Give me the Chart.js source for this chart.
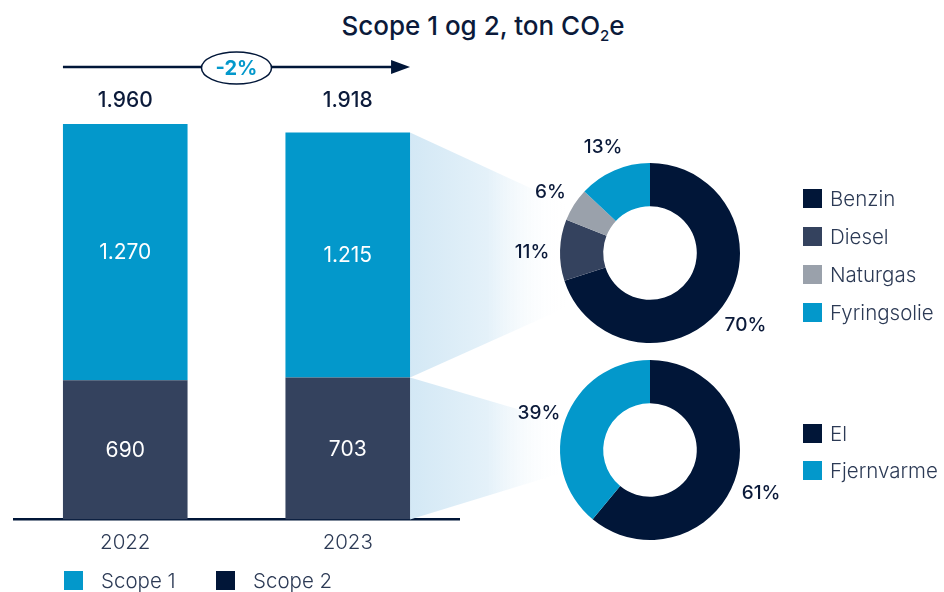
<!DOCTYPE html>
<html>
<head>
<meta charset="utf-8">
<script src="https://cdn.jsdelivr.net/npm/chart.js@4/dist/chart.umd.min.js"></script>
<style>
  body { margin: 0; background: #fff; font-family: Inter, sans-serif; }
  #wrap { position: relative; width: 944px; height: 592px; overflow: hidden; }
  canvas { position: absolute; }
  .title { position: absolute; left: 0; width: 966px; top: 10px; text-align: center;
           font-size: 26px; font-weight: 500; color: #0b1a3a; }
  .title sub { font-size: 15px; vertical-align: -6px; line-height: 0; }
  .leg { position: absolute; display: flex; align-items: center; height: 20px;
         font-size: 20.5px; font-weight: 300; color: #2c3a55; white-space: nowrap; }
  .leg i { display: inline-block; width: 19px; height: 19px; margin-right: 8px; }
  .leg.wide i { margin-right: 18px; }
</style>
</head>
<body>
<div id="wrap">
  <div class="title">Scope 1 og 2, ton CO<sub>2</sub>e</div>
  <canvas id="bars" width="944" height="592" style="left:0;top:0"></canvas>
  <canvas id="fuel" width="300" height="240" style="left:500px;top:133px"></canvas>
  <canvas id="energy" width="300" height="240" style="left:500px;top:330px"></canvas>
</div>
<script>
// data
const years = ['2022', '2023'];
const scope1 = [1270, 1215];
const scope2 = [690, 703];
const fuelLabels = ['Benzin', 'Diesel', 'Naturgas', 'Fyringsolie'];
const fuelShares = [70, 11, 6, 13];
const energyLabels = ['El', 'Fjernvarme'];
const energyShares = [61, 39];

const BLUE = '#0398cb';
const NAVY = '#011638';
const SLATE = '#34425e';
const GREY = '#9aa1ab';
const TEXT = '#0b1a3a';

const totals = years.map((y, i) => scope1[i] + scope2[i]);

function fmt(n) {
  return String(n).replace(/\B(?=(\d{3})+(?!\d))/g, '.');
}

Chart.defaults.font.family = 'Inter, sans-serif';
Chart.defaults.devicePixelRatio = 1;

function drawFan(ctx, x0, yTop, yBot, x1, y1Top, y1Bot) {
  let grad = ctx.createLinearGradient(x0, 0, x1, 0);
  grad.addColorStop(0, '#d3e8f5');
  grad.addColorStop(0.5, '#e4f1f9');
  grad.addColorStop(1, 'rgba(255,255,255,0)');
  ctx.save();
  ctx.fillStyle = grad;
  ctx.beginPath();
  ctx.moveTo(x0, yTop);
  ctx.lineTo(x1, y1Top);
  ctx.lineTo(x1, y1Bot);
  ctx.lineTo(x0, yBot);
  ctx.closePath();
  ctx.fill();
  ctx.restore();
}

const barDecor = {
  id: 'barDecor',
  beforeDatasetsDraw(chart) {
    const ctx = chart.ctx;
    const top = chart.getDatasetMeta(1).data[1];
    const bot = chart.getDatasetMeta(0).data[1];
    const x0 = top.x + top.width / 2;
    drawFan(ctx, x0, top.y, top.base, 565, 204, 308);
    drawFan(ctx, x0, bot.y, bot.base, 565, 423, 472);
  },
  afterDatasetsDraw(chart) {
    const ctx = chart.ctx;
    ctx.save();
    ctx.textAlign = 'center';
    ctx.textBaseline = 'middle';
    // values inside the segments
    ctx.fillStyle = '#fff';
    ctx.font = '21px Inter';
    chart.data.datasets.forEach((ds, di) => {
      chart.getDatasetMeta(di).data.forEach((bar, i) => {
        ctx.fillText(fmt(ds.data[i]), bar.x, (bar.y + bar.base) / 2 + 1);
      });
    });
    // totals above
    const bars = chart.getDatasetMeta(1).data;
    ctx.fillStyle = TEXT;
    ctx.font = '500 21px Inter';
    bars.forEach((bar, i) => {
      ctx.fillText(fmt(totals[i]), bar.x, chart.chartArea.top - 23);
    });
    // arrow with change
    const xa = bars[0].x - bars[0].width / 2;
    const xb = bars[1].x + bars[1].width / 2;
    const ya = 67;
    ctx.strokeStyle = NAVY;
    ctx.lineWidth = 2.5;
    ctx.beginPath();
    ctx.moveTo(xa, ya);
    ctx.lineTo(xb - 10, ya);
    ctx.stroke();
    ctx.fillStyle = NAVY;
    ctx.beginPath();
    ctx.moveTo(xb, ya);
    ctx.lineTo(xb - 19, ya - 7);
    ctx.lineTo(xb - 19, ya + 7);
    ctx.closePath();
    ctx.fill();
    const xm = (xa + xb) / 2;
    ctx.fillStyle = '#fff';
    ctx.lineWidth = 1.5;
    ctx.beginPath();
    ctx.ellipse(xm, ya + 1, 35, 16, 0, 0, Math.PI * 2);
    ctx.fill();
    ctx.stroke();
    const change = Math.round((totals[1] - totals[0]) / totals[0] * 100);
    ctx.fillStyle = BLUE;
    ctx.font = 'bold 20px Inter';
    ctx.fillText(change + '%', xm, ya + 2);
    ctx.restore();
  }
};

new Chart(document.getElementById('bars'), {
  type: 'bar',
  data: {
    labels: years,
    datasets: [
      { label: 'Scope 2', data: scope2, backgroundColor: SLATE },
      { label: 'Scope 1', data: scope1, backgroundColor: BLUE }
    ]
  },
  options: {
    responsive: false,
    animation: false,
    layout: { padding: { top: 124, left: 14, right: 485, bottom: 26 } },
    datasets: { bar: { barPercentage: 0.56, categoryPercentage: 1 } },
    plugins: { legend: { display: false }, tooltip: { enabled: false } },
    scales: {
      x: {
        stacked: true,
        grid: { display: false, drawTicks: false },
        border: { display: true, color: NAVY, width: 2.5 },
        ticks: { color: '#2c3a55', font: { size: 20.5, weight: 300 }, padding: 11 }
      },
      y: { stacked: true, display: false, min: 0, max: Math.max(...totals) }
    }
  },
  plugins: [barDecor]
});

const pctLabels = {
  id: 'pctLabels',
  afterDatasetsDraw(chart) {
    const ctx = chart.ctx;
    const data = chart.data.datasets[0].data;
    ctx.save();
    ctx.fillStyle = TEXT;
    ctx.font = '500 19px Inter';
    ctx.textAlign = 'center';
    ctx.textBaseline = 'middle';
    chart.getDatasetMeta(0).data.forEach((arc, i) => {
      const mid = (arc.startAngle + arc.endAngle) / 2;
      const r = arc.outerRadius + 28;
      ctx.fillText(data[i] + '%', arc.x + Math.cos(mid) * r, arc.y + Math.sin(mid) * r + 3);
    });
    ctx.restore();
  }
};

function donut(id, labels, values, colors) {
  return new Chart(document.getElementById(id), {
    type: 'doughnut',
    data: { labels: labels, datasets: [{ data: values, backgroundColor: colors, borderWidth: 0 }] },
    options: {
      responsive: false,
      animation: false,
      cutout: '52%',
      layout: { padding: { top: 30, bottom: 30, left: 60, right: 60 } },
      plugins: { legend: { display: false }, tooltip: { enabled: false } }
    },
    plugins: [pctLabels]
  });
}

const fuelColors = [NAVY, SLATE, GREY, BLUE];
const energyColors = [NAVY, BLUE];
donut('fuel', fuelLabels, fuelShares, fuelColors);
donut('energy', energyLabels, energyShares, energyColors);

// html legends
function legend(items, colors, left, top, step, cls) {
  const wrap = document.getElementById('wrap');
  items.forEach((t, i) => {
    const d = document.createElement('div');
    d.className = 'leg' + (cls ? ' ' + cls : '');
    d.style.left = left[i] + 'px';
    d.style.top = (top + i * step) + 'px';
    d.innerHTML = '<i style="background:' + colors[i] + '"></i>' + t;
    wrap.appendChild(d);
  });
}
legend(['Scope 1', 'Scope 2'], [BLUE, NAVY], [64, 216], 570, 0, 'wide');
legend(fuelLabels, fuelColors, [803, 803, 803, 803], 188, 38);
legend(energyLabels, energyColors, [803, 803], 423, 37);
</script>
</body>
</html>
